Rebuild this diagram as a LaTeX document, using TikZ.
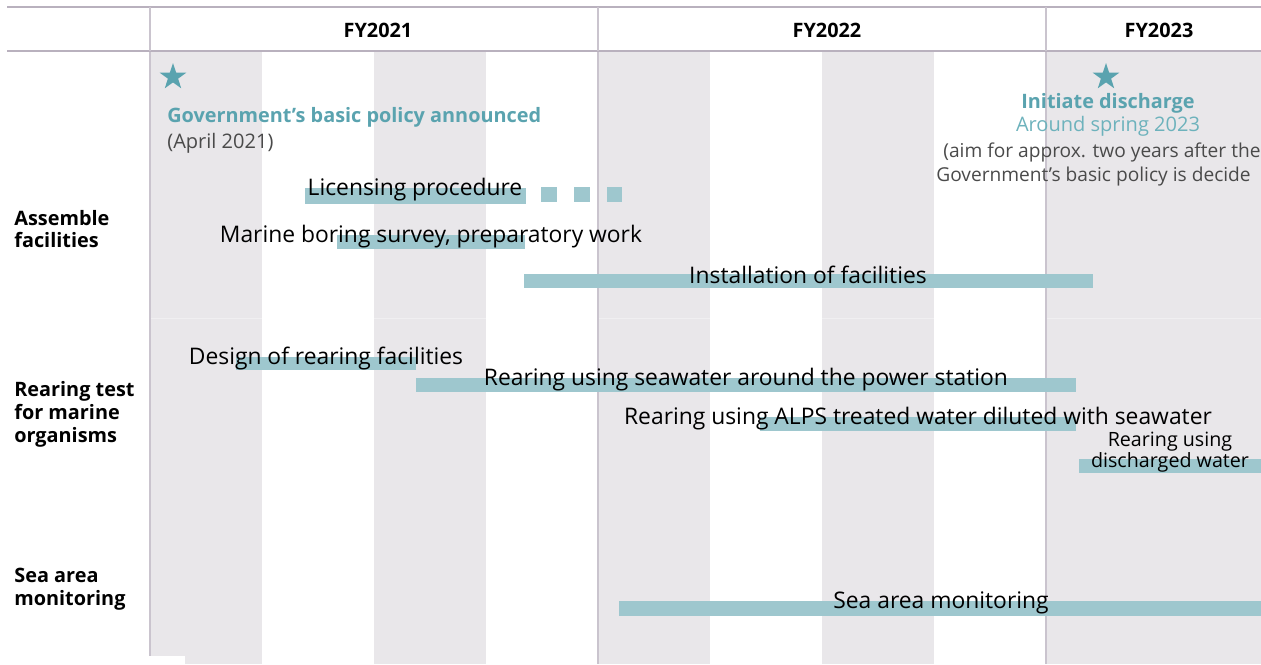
\documentclass[tikz,border=0pt]{standalone}
\usepackage{fontspec}
\setmainfont{Open Sans}
\usetikzlibrary{shapes.geometric}

\definecolor{stripegray}{HTML}{E9E7EA}
\definecolor{gridline}{HTML}{B9B1BE}
\definecolor{bodyline}{HTML}{CAC4CE}
\definecolor{barteal}{HTML}{9EC7CE}
\definecolor{starteal}{HTML}{5AA3AF}
\definecolor{lightteal}{HTML}{6DB2BC}
\definecolor{notegray}{HTML}{4A4A4A}

\tikzset{
	taskbar/.style={fill=barteal, draw=none},
	tasklabel/.style={font=\fontsize{13}{15}\selectfont, text=black, inner sep=0pt},
	smalllabel/.style={font=\fontsize{11.2}{10.2}\selectfont, text=black, inner sep=0pt, align=center},
	rowlabel/.style={font=\fontsize{11.3}{13}\selectfont\bfseries, align=left, anchor=west, inner sep=0pt},
	yearlabel/.style={font=\fontsize{11.3}{13}\selectfont\bfseries, inner sep=0pt},
	notelabel/.style={font=\fontsize{11.4}{13}\selectfont, inner sep=0pt},
	milestone/.style={star, star points=5, star point ratio=2.6, fill=starteal, draw=none, minimum size=0.56cm, inner sep=0pt}
}

\begin{document}
\begin{tikzpicture}[x=0.02cm, y=-0.02cm]
		\useasboundingbox ( 0, 0 ) rectangle ( 1261, 664 );
		\clip ( 0, 0 ) rectangle ( 1261, 664 );

		% полосы кварталов
		\fill [stripegray] (  150, 52 ) rectangle (  262, 664 );
		\fill [stripegray] (  374, 52 ) rectangle (  486, 664 );
		\fill [stripegray] (  598, 52 ) rectangle (  710, 664 );
		\fill [stripegray] (  822, 52 ) rectangle (  934, 664 );
		\fill [stripegray] ( 1046, 52 ) rectangle ( 1261, 664 );
		\draw [white, line width=0.5pt, opacity=0.35] ( 150, 318 ) -- ( 1261, 318 );
		\draw [bodyline, line width=0.8pt] (  150, 52 ) -- (  150, 664 );
		\draw [bodyline, line width=0.6pt] (  598, 52 ) -- (  598, 664 );
		\draw [bodyline, line width=0.6pt] ( 1046, 52 ) -- ( 1046, 664 );
		\fill [white] ( 149, 656 ) rectangle ( 185, 664 );

		% шапка
		\draw [gridline, line width=1.2pt] ( 7, 7 ) -- ( 1261, 7 );
		\draw [gridline, line width=1.2pt] ( 7, 51 ) -- ( 1261, 51 );
		\draw [bodyline, line width=0.6pt] (  150, 7 ) -- (  150, 51 );
		\draw [bodyline, line width=0.6pt] (  598, 7 ) -- (  598, 51 );
		\draw [bodyline, line width=0.6pt] ( 1046, 7 ) -- ( 1046, 51 );
		\node [yearlabel] (fy21) at (  378, 30 ) {FY2021};
		\node [yearlabel] (fy22) at (  827, 30 ) {FY2022};
		\node [yearlabel] (fy23) at ( 1159, 30 ) {FY2023};

		% подписи строк
		\node [rowlabel] (rowassemble) at ( 14, 229 ) {Assemble\\facilities};
		\node [rowlabel] (rowrearing) at ( 14, 414 ) {Rearing test\\for marine\\organisms};
		\node [rowlabel] (rowmonitor) at ( 14, 589 ) {Sea area\\monitoring};

		% базовая политика
		\node [milestone] (star21) at ( 173, 77 ) {};
		\node [notelabel, anchor=west, text=starteal, font=\fontsize{11.3}{13}\selectfont\bfseries] (policy) at ( 167, 117 ) {Government’s basic policy announced};
		\node [notelabel, anchor=west, text=notegray] (policydate) at ( 167, 143 ) {(April 2021)};

		% начало сброса
		\node [milestone] (star23) at ( 1106, 77 ) {};
		\node [notelabel, text=starteal, font=\fontsize{11.3}{13}\selectfont\bfseries] (discharge) at ( 1108, 103 ) {Initiate discharge};
		\node [notelabel, text=lightteal] (dischargedate) at ( 1108, 126 ) {Around spring 2023};
		\node [notelabel, anchor=west, text=notegray, font=\fontsize{10.9}{13}\selectfont] (aimone) at ( 943, 152 ) {(aim for approx. two years after the};
		\node [notelabel, anchor=west, text=notegray, font=\fontsize{10.9}{13}\selectfont] (aimtwo) at ( 936, 177 ) {Government’s basic policy is decide};

		% сборка оборудования
		\fill [taskbar] ( 305, 188 ) rectangle ( 526, 204 );
		\fill [taskbar] ( 541, 187 ) rectangle ( 557, 202 );
		\fill [taskbar] ( 574, 187 ) rectangle ( 590, 202 );
		\fill [taskbar] ( 607, 187 ) rectangle ( 622, 202 );
		\node [tasklabel] (licensing) at ( 415, 190 ) {Licensing procedure};
		\fill [taskbar] ( 337, 235 ) rectangle ( 525, 249 );
		\node [tasklabel] (boring) at ( 431, 237 ) {Marine boring survey, preparatory work};
		\fill [taskbar] ( 524, 274 ) rectangle ( 1093, 288 );
		\node [tasklabel] (install) at ( 808, 275 ) {Installation of facilities};

		% опыты по выращиванию
		\fill [taskbar] ( 236, 357 ) rectangle ( 416, 370 );
		\node [tasklabel] (design) at ( 326, 358 ) {Design of rearing facilities};
		\fill [taskbar] ( 416, 378 ) rectangle ( 1076, 392 );
		\node [tasklabel] (seawater) at ( 746, 380 ) {Rearing using seawater around the power station};
		\fill [taskbar] ( 760, 417 ) rectangle ( 1076, 431 );
		\node [tasklabel] (alps) at ( 918, 419 ) {Rearing using ALPS treated water diluted with seawater};
		\fill [taskbar] ( 1079, 459 ) rectangle ( 1261, 473 );
		\node [smalllabel] (dischwater) at ( 1170, 452 ) {Rearing using\\discharged water};

		% мониторинг моря
		\fill [taskbar] ( 619, 601 ) rectangle ( 1261, 616 );
		\node [tasklabel] (monitor) at ( 941, 603 ) {Sea area monitoring};
\end{tikzpicture}
\end{document}
